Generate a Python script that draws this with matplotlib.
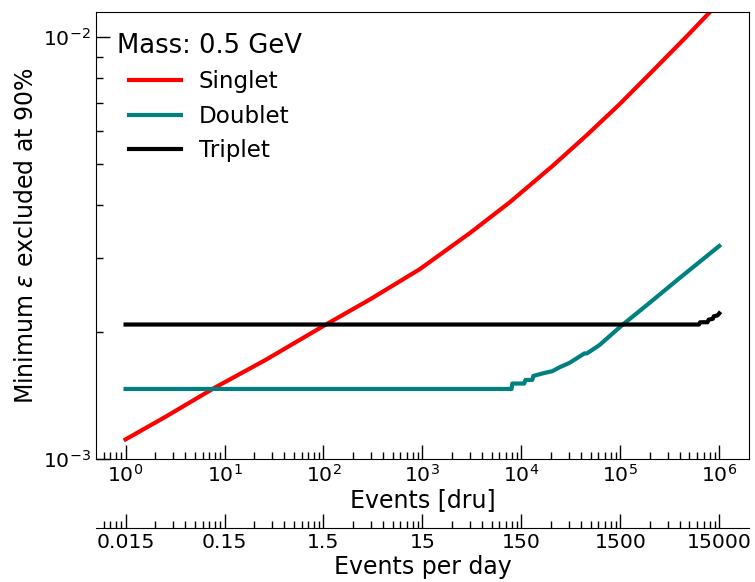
import matplotlib
matplotlib.use("Agg")
import matplotlib.pyplot as plt
from matplotlib.ticker import FixedLocator, FixedFormatter, NullFormatter

# Singlet
singlet_x = [1, 2.53, 8.08, 25.8, 112, 295, 942, 3.0e3, 7.61e3, 2.08e4, 4.51e4,
             9.77e4, 2.12e5, 4.59e5, 7.89e5, 1e6]
singlet_y = [1.113e-3, 1.259e-3, 1.479e-3, 1.716e-3, 2.10e-3, 2.39e-3, 2.82e-3,
             3.43e-3, 4.06e-3, 4.96e-3, 5.84e-3, 6.93e-3, 8.32e-3, 1.0e-2,
             1.142e-2, 1.21e-2]

# Doublet
doublet_x = [1, 7.96e3, 8.1e3, 1.07e4, 1.1e4, 1.29e4, 1.32e4, 1.71e4, 2.05e4,
             2.43e4, 3.06e4, 4.34e4, 4.6e4, 6.14e4, 1.05e5, 1.95e5, 3.93e5, 1e6]
doublet_y = [1.466e-3, 1.466e-3, 1.51e-3, 1.51e-3, 1.54e-3, 1.54e-3, 1.574e-3,
             1.60e-3, 1.615e-3, 1.65e-3, 1.69e-3, 1.78e-3, 1.78e-3, 1.862e-3,
             2.08e-3, 2.34e-3, 2.68e-3, 3.20e-3]

# Triplet
triplet_x = [1, 6.25e5, 6.4e5, 7.6e5, 7.8e5, 8.6e5, 8.8e5, 9.6e5, 1e6]
triplet_y = [2.084e-3, 2.084e-3, 2.11e-3, 2.11e-3, 2.14e-3, 2.15e-3, 2.18e-3,
             2.19e-3, 2.215e-3]

# Secondary axis: events per day = 0.015 * dru
day_factor = 0.015
day_ticks = [0.015, 0.15, 1.5, 15, 150, 1500, 15000]
day_labels = ["0.015", "0.15", "1.5", "15", "150", "1500", "15000"]

fig = plt.figure(figsize=(7.55, 5.82), dpi=100)
ax = fig.add_axes([0.127, 0.2113, 0.865, 0.7681])

ax.plot(singlet_x, singlet_y, color="red", lw=3, label="Singlet")
ax.plot(doublet_x, doublet_y, color="teal", lw=3, label="Doublet")
ax.plot(triplet_x, triplet_y, color="black", lw=3, label="Triplet")

ax.set_xscale("log")
ax.set_yscale("log")
ax.set_ylim(1e-3, 1.148e-2)
ax.yaxis.set_minor_formatter(NullFormatter())

ax.tick_params(which="both", direction="in", top=False, right=False, labelsize=14.7)
ax.tick_params(which="major", length=10, width=1)
ax.tick_params(which="minor", length=5, width=1)

ax.set_xlabel("Events [dru]", fontsize=17, labelpad=2)
ax.set_ylabel(r"Minimum $\varepsilon$ excluded at 90%", fontsize=17)

ax.legend(title="Mass: 0.5 GeV", fontsize=16.6, title_fontsize=18.6,
          frameon=False, loc="upper left", handlelength=2.25)

sec = ax.secondary_xaxis(-0.154, functions=(lambda x: x * day_factor,
                                            lambda x: x / day_factor))
sec.xaxis.set_major_locator(FixedLocator(day_ticks))
sec.xaxis.set_major_formatter(FixedFormatter(day_labels))
minor_pos = [k * t for t in [0.0015] + day_ticks for k in range(2, 10)]
sec.xaxis.set_minor_locator(FixedLocator(minor_pos))
sec.xaxis.set_minor_formatter(NullFormatter())
sec.tick_params(which="both", direction="in", labelsize=14.7)
sec.tick_params(which="major", length=10, width=1)
sec.tick_params(which="minor", length=5, width=1)
sec.set_xlabel("Events per day", fontsize=17, labelpad=2)

fig.savefig("out.png", dpi=100)
